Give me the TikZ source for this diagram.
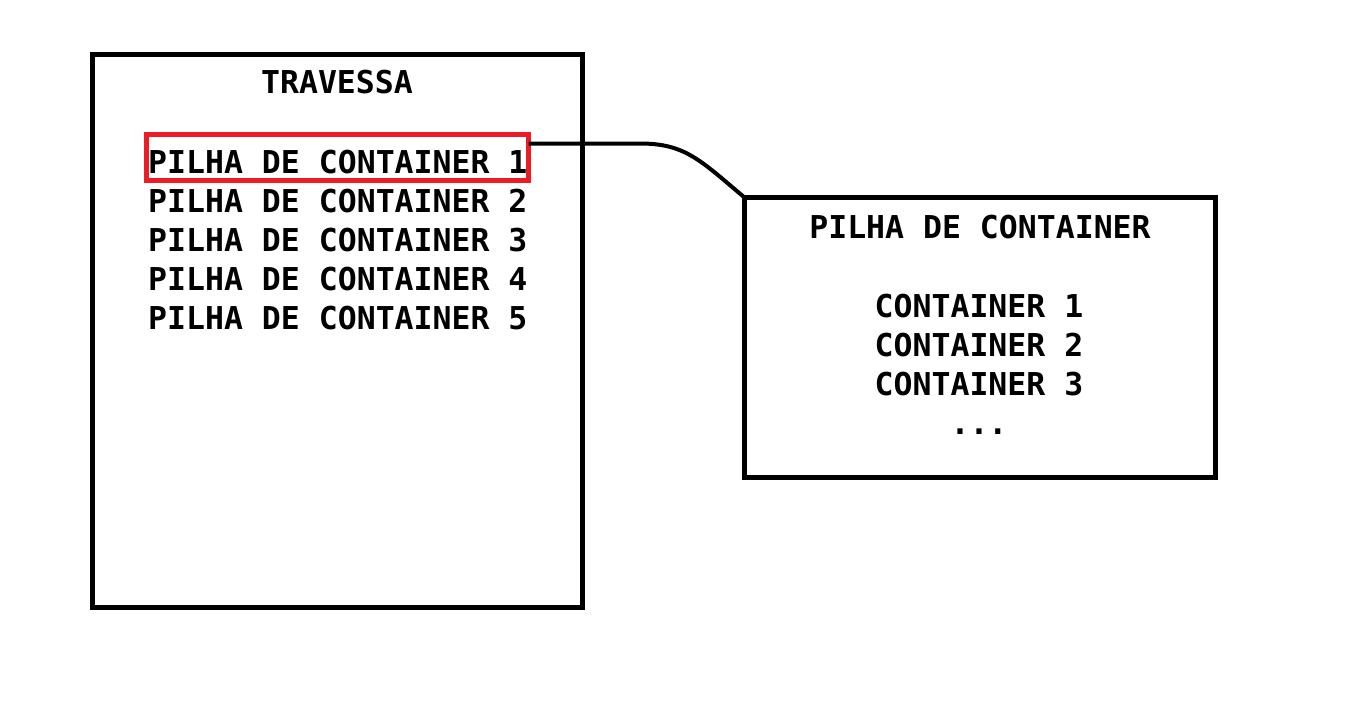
\documentclass[tikz,border=0pt]{standalone}
\usepackage{fontspec}
\newfontfamily\diagfont{DejaVu Sans Mono}
\definecolor{paintred}{HTML}{ED1C24}
\begin{document}
\begin{tikzpicture}[x=1pt,y=-1pt,
  box/.style={draw=black, line width=5pt, inner sep=0pt, outer sep=0pt, anchor=north west},
  sel/.style={draw=paintred, line width=4.5pt, inner sep=0pt, outer sep=0pt, anchor=north west},
  txt/.style={inner sep=0pt, font=\diagfont\bfseries\fontsize{31.5}{39}\selectfont},
  link/.style={draw=black, line width=4pt}]
\useasboundingbox (0,0) rectangle (1345,721);
% left box
\node[box, minimum width=490pt, minimum height=553pt] (trav) at (92.5,54.5) {};
\node[txt, anchor=base] (travt) at (337,93) {TRAVESSA};
\node[sel, minimum width=382pt, minimum height=46pt] (selbox) at (146.5,134.5) {};
\node[txt, anchor=base west] (l1) at (148,173) {PILHA DE CONTAINER 1};
\node[txt, anchor=base west] (l2) at (148,212) {PILHA DE CONTAINER 2};
\node[txt, anchor=base west] (l3) at (148,251) {PILHA DE CONTAINER 3};
\node[txt, anchor=base west] (l4) at (148,290) {PILHA DE CONTAINER 4};
\node[txt, anchor=base west] (l5) at (148,329) {PILHA DE CONTAINER 5};
% right box
\node[box, minimum width=471pt, minimum height=280pt] (pilha) at (744.5,197.5) {};
\node[txt, anchor=base] (pt) at (980,238) {PILHA DE CONTAINER};
\node[txt, anchor=base] (c1) at (979,317) {CONTAINER 1};
\node[txt, anchor=base] (c2) at (979,356) {CONTAINER 2};
\node[txt, anchor=base] (c3) at (979,395) {CONTAINER 3};
\node[txt, anchor=base] (cd) at (979,434) {...};
% connector
\coordinate (start) at ([yshift=-9pt]selbox.north east);
\coordinate (bend) at (640,143.5);
\draw[link] (start) -- (bend) .. controls (685,143.5) and (700,160) .. (pilha.north west);
\end{tikzpicture}
\end{document}
